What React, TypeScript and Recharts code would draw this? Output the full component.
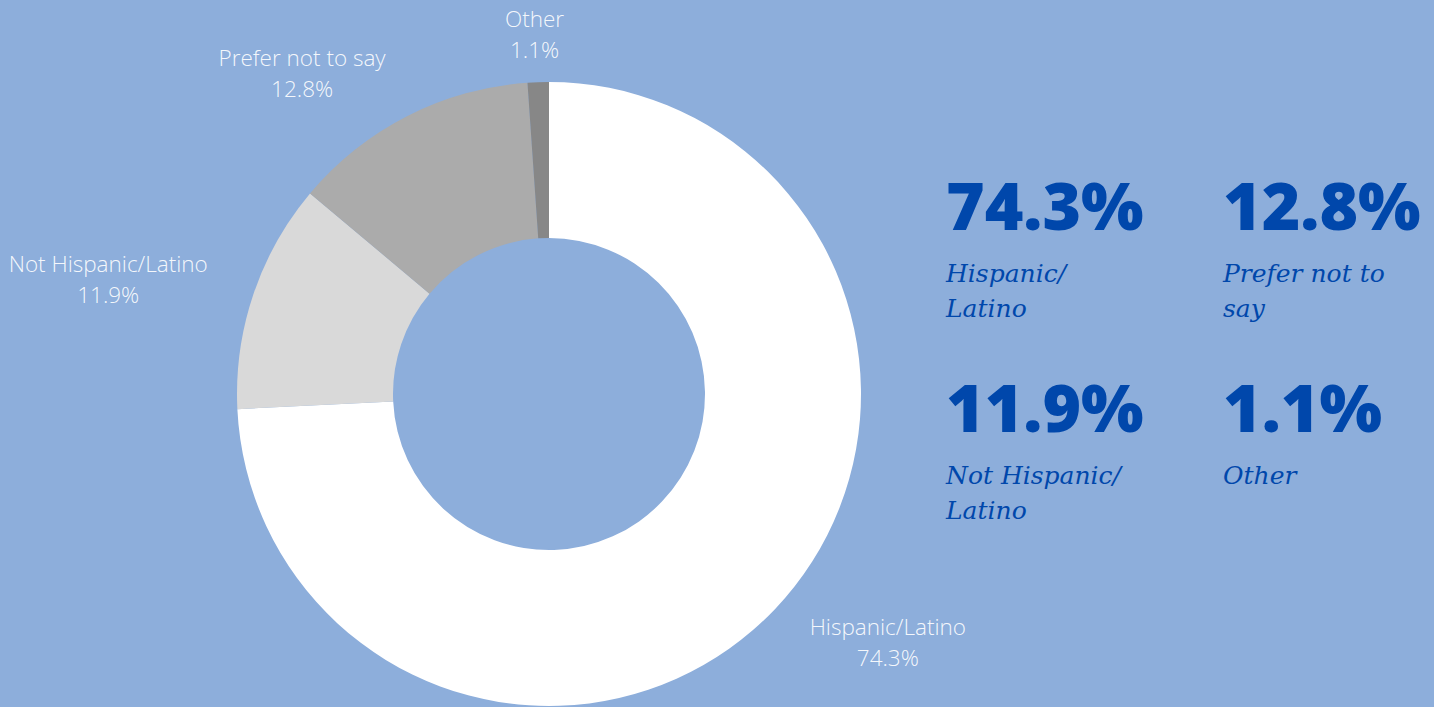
import { Cell, Pie, PieChart } from "recharts";

const categories = ["Hispanic/Latino", "Not Hispanic/Latino", "Prefer not to say", "Other"];
const shares = [74.3, 11.9, 12.8, 1.1];
const statLines = [["Hispanic/", "Latino"], ["Not Hispanic/", "Latino"], ["Prefer not to", "say"], ["Other"]];
const statOrder = [0, 2, 1, 3];

const sliceColors = ["#FFFFFF", "#D9D9D9", "#ABABAB", "#878787"];
const BG = "#8DAEDB";
const BLUE = "#0047AB";
const RAD = Math.PI / 180;
const LABEL_FONT = "300 22.5px 'Open Sans'";

const data = categories.map((name, i) => ({ name, value: shares[i] }));

let ctx: CanvasRenderingContext2D | null = null;
function measure(s: string) {
  if (!ctx) ctx = document.createElement("canvas").getContext("2d");
  if (!ctx) return s.length * 10;
  ctx.font = LABEL_FONT;
  return ctx.measureText(s).width;
}

function SliceLabel(props: any) {
  const { cx, cy, midAngle, outerRadius, index } = props;
  const r = outerRadius + 48;
  const c = Math.cos(-midAngle * RAD);
  const px = cx + r * c;
  const py = cy + r * Math.sin(-midAngle * RAD);
  const l1 = categories[index];
  const l2 = `${shares[index].toFixed(1)}%`;
  const w = Math.max(measure(l1), measure(l2));
  // near-vertical labels sit centred on the anchor point
  let x = c >= 0 ? px + w / 2 : px - w / 2;
  if (Math.abs(c) < 0.2) x = px - 2;
  return (
    <text x={x} y={py} textAnchor="middle" fill="#FFFFFF" fillOpacity={0.92}
      style={{ fontFamily: "'Open Sans', sans-serif", fontWeight: 300, fontSize: 22.5 }}>
      <tspan x={x} dy={-7}>{l1}</tspan>
      <tspan x={x} dy={31}>{l2}</tspan>
    </text>
  );
}

export default function App() {
  return (
    <div style={{ position: "absolute", left: 0, top: 0, width: 1434, height: 707, background: BG, overflow: "hidden" }}>
      <PieChart width={1434} height={707} margin={{ top: 0, right: 0, bottom: 0, left: 0 }}>
        <Pie data={data} dataKey="value" nameKey="name" cx={549} cy={394} innerRadius={156} outerRadius={312}
          startAngle={90} endAngle={-270} stroke="none" label={SliceLabel} labelLine={false} isAnimationActive={false}>
          {data.map((d, i) => <Cell key={d.name} fill={sliceColors[i]} />)}
        </Pie>
      </PieChart>
      <div style={{ position: "absolute", left: 946, top: 164, display: "grid", gridTemplateColumns: "277px 220px" }}>
        {statOrder.map((i) => (
          <div key={i} style={{ height: 202, color: BLUE }}>
            <div style={{ fontFamily: "'Open Sans', sans-serif", fontWeight: 800, fontSize: 66, lineHeight: "80px", letterSpacing: 0 }}>
              {shares[i].toFixed(1)}%
            </div>
            <div style={{ fontFamily: "'DejaVu Serif', serif", fontStyle: "italic", fontSize: 25, lineHeight: "35px", marginTop: 12 }}>
              {statLines[i].map((l) => <div key={l}>{l}</div>)}
            </div>
          </div>
        ))}
      </div>
    </div>
  );
}
